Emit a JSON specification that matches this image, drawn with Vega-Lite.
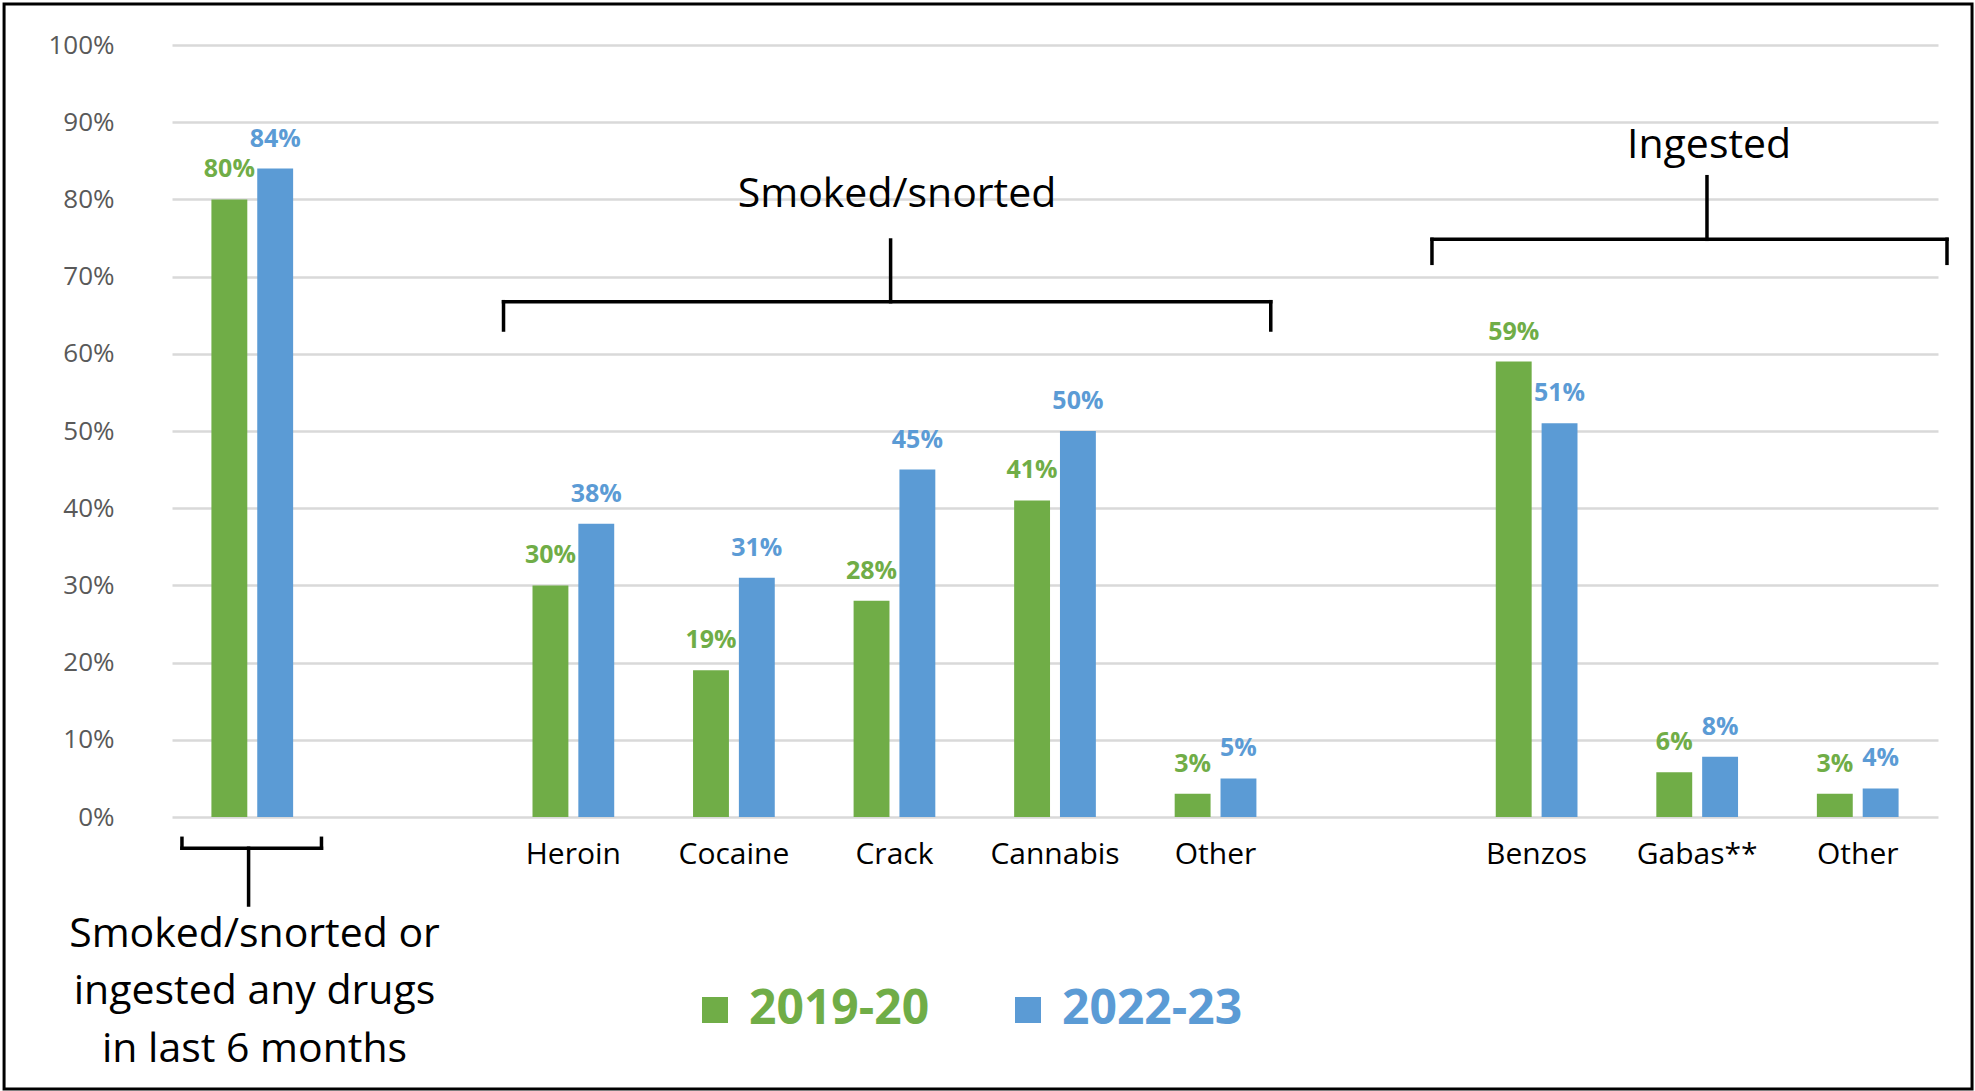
{
  "$schema": "https://vega.github.io/schema/vega-lite/v6.json",
  "width": 1766,
  "height": 772,
  "autosize": {"type": "none"},
  "padding": {"left": 172, "top": 45, "right": 37, "bottom": 274},
  "background": "white",
  "config": {
    "font": "Open Sans",
    "view": {"stroke": null}
  },
  "datasets": {
    "bars": [
      {"cat": "Any", "year": "2019-20", "value": 0.80},
      {"cat": "Any", "year": "2022-23", "value": 0.84},
      {"cat": "Heroin", "year": "2019-20", "value": 0.30},
      {"cat": "Heroin", "year": "2022-23", "value": 0.38},
      {"cat": "Cocaine", "year": "2019-20", "value": 0.19},
      {"cat": "Cocaine", "year": "2022-23", "value": 0.31},
      {"cat": "Crack", "year": "2019-20", "value": 0.28},
      {"cat": "Crack", "year": "2022-23", "value": 0.45},
      {"cat": "Cannabis", "year": "2019-20", "value": 0.41},
      {"cat": "Cannabis", "year": "2022-23", "value": 0.50},
      {"cat": "OtherS", "year": "2019-20", "value": 0.03},
      {"cat": "OtherS", "year": "2022-23", "value": 0.05},
      {"cat": "Benzos", "year": "2019-20", "value": 0.59},
      {"cat": "Benzos", "year": "2022-23", "value": 0.51},
      {"cat": "Gabas**", "year": "2019-20", "value": 0.058},
      {"cat": "Gabas**", "year": "2022-23", "value": 0.078},
      {"cat": "OtherI", "year": "2019-20", "value": 0.03},
      {"cat": "OtherI", "year": "2022-23", "value": 0.037}
    ],
    "brackets": [
      {"x": 2.065, "x2": 6.844, "y": 0.6675, "y2": 0.6675},
      {"x": 2.065, "x2": 2.065, "y": 0.6675, "y2": 0.6308},
      {"x": 6.844, "x2": 6.844, "y": 0.6675, "y2": 0.6308},
      {"x": 4.476, "x2": 4.476, "y": 0.6675, "y2": 0.7474},
      {"x": 7.848, "x2": 11.056, "y": 0.7483, "y2": 0.7483},
      {"x": 7.848, "x2": 7.848, "y": 0.7483, "y2": 0.7172},
      {"x": 11.056, "x2": 11.056, "y": 0.7483, "y2": 0.7172},
      {"x": 9.561, "x2": 9.561, "y": 0.7483, "y2": 0.8294},
      {"x": 0.062, "x2": 0.931, "y": -0.0405, "y2": -0.0405},
      {"x": 0.062, "x2": 0.062, "y": -0.0405, "y2": -0.0276},
      {"x": 0.931, "x2": 0.931, "y": -0.0405, "y2": -0.0276},
      {"x": 0.477, "x2": 0.477, "y": -0.0405, "y2": -0.114}
    ],
    "notes": [
      {"x": 4.516, "y": 0.7898, "label": "Smoked/snorted"},
      {"x": 9.574, "y": 0.8532, "label": "Ingested"},
      {"x": 0.514, "y": -0.168, "label": "Smoked/snorted or"},
      {"x": 0.514, "y": -0.2422, "label": "ingested any drugs"},
      {"x": 0.514, "y": -0.3174, "label": "in last 6 months"}
    ],
    "frame": [
      {"x": -1.046, "x2": 11.212, "y": 1.0531, "y2": -0.3523}
    ]
  },
  "resolve": {"scale": {"x": "independent"}},
  "layer": [
    {
      "data": {"name": "bars"},
      "mark": {"type": "bar"},
      "encoding": {
        "x": {
          "field": "cat",
          "type": "nominal",
          "sort": null,
          "scale": {
            "domain": ["Any", "gap1", "Heroin", "Cocaine", "Crack", "Cannabis", "OtherS", "gap2", "Benzos", "Gabas**", "OtherI"],
            "paddingInner": 0.491,
            "paddingOuter": 0.2455
          },
          "axis": {
            "title": null,
            "domain": false,
            "ticks": false,
            "labelAngle": 0,
            "labelFont": "Open Sans",
            "labelFontSize": 30,
            "labelColor": "#000000",
            "labelPadding": 22,
            "labelExpr": "datum.value == 'OtherS' || datum.value == 'OtherI' ? 'Other' : (datum.value == 'Any' || datum.value == 'gap1' || datum.value == 'gap2' ? '' : datum.value)"
          }
        },
        "xOffset": {
          "field": "year",
          "type": "nominal",
          "scale": {"paddingInner": 0.217, "paddingOuter": 0}
        },
        "y": {
          "field": "value",
          "type": "quantitative",
          "scale": {"domain": [0, 1], "nice": false},
          "axis": {
            "title": null,
            "format": ".0%",
            "values": [0, 0.1, 0.2, 0.3, 0.4, 0.5, 0.6, 0.7, 0.8, 0.9, 1],
            "domain": false,
            "ticks": false,
            "gridColor": "#d9d9d9",
            "gridWidth": 2.5,
            "labelFont": "Open Sans",
            "labelFontSize": 26,
            "labelColor": "#595959",
            "labelPadding": 58
          }
        },
        "color": {
          "field": "year",
          "type": "nominal",
          "scale": {"domain": ["2019-20", "2022-23"], "range": ["#70ad47", "#5b9bd5"]},
          "legend": {
            "title": null,
            "orient": "none",
            "direction": "horizontal",
            "legendX": 519,
            "legendY": 941,
            "symbolType": "square",
            "symbolSize": 676,
            "symbolStrokeWidth": 0,
            "labelFont": "Open Sans",
            "labelFontSize": 48,
            "labelFontWeight": "bold",
            "labelOffset": 10,
            "columnPadding": 74,
            "labelLimit": 400,
            "encode": {
              "labels": {"update": {"fill": {"scale": "color", "field": "value"}}}
            }
          }
        }
      }
    },
    {
      "data": {"name": "bars"},
      "mark": {"type": "text", "font": "Open Sans", "fontSize": 25, "fontWeight": "bold", "baseline": "alphabetic", "align": "center", "dy": -22},
      "encoding": {
        "x": {
          "field": "cat",
          "type": "nominal",
          "sort": null,
          "scale": {
            "domain": ["Any", "gap1", "Heroin", "Cocaine", "Crack", "Cannabis", "OtherS", "gap2", "Benzos", "Gabas**", "OtherI"],
            "paddingInner": 0.491,
            "paddingOuter": 0.2455
          },
          "axis": null
        },
        "xOffset": {
          "field": "year",
          "type": "nominal",
          "scale": {"paddingInner": 0.217, "paddingOuter": 0}
        },
        "y": {"field": "value", "type": "quantitative", "scale": {"domain": [0, 1], "nice": false}},
        "text": {"field": "value", "type": "quantitative", "format": ".0%"},
        "color": {
          "field": "year",
          "type": "nominal",
          "scale": {"domain": ["2019-20", "2022-23"], "range": ["#70ad47", "#5b9bd5"]},
          "legend": null
        }
      }
    },
    {
      "data": {"name": "brackets"},
      "mark": {"type": "rule", "color": "#000000", "strokeWidth": 3.5, "strokeCap": "square"},
      "encoding": {
        "x": {"field": "x", "type": "quantitative", "scale": {"domain": [0, 11], "nice": false, "zero": false}, "axis": null},
        "x2": {"field": "x2"},
        "y": {"field": "y", "type": "quantitative", "scale": {"domain": [0, 1], "nice": false}},
        "y2": {"field": "y2"}
      }
    },
    {
      "data": {"name": "notes"},
      "mark": {"type": "text", "font": "Open Sans", "fontSize": 41, "color": "#000000", "align": "center", "baseline": "alphabetic"},
      "encoding": {
        "x": {"field": "x", "type": "quantitative", "scale": {"domain": [0, 11], "nice": false, "zero": false}, "axis": null},
        "y": {"field": "y", "type": "quantitative", "scale": {"domain": [0, 1], "nice": false}},
        "text": {"field": "label", "type": "nominal"}
      }
    },
    {
      "data": {"name": "frame"},
      "mark": {"type": "rect", "fill": null, "fillOpacity": 0, "stroke": "#000000", "strokeWidth": 3},
      "encoding": {
        "x": {"field": "x", "type": "quantitative", "scale": {"domain": [0, 11], "nice": false, "zero": false}, "axis": null},
        "x2": {"field": "x2"},
        "y": {"field": "y", "type": "quantitative", "scale": {"domain": [0, 1], "nice": false}},
        "y2": {"field": "y2"}
      }
    }
  ]
}
